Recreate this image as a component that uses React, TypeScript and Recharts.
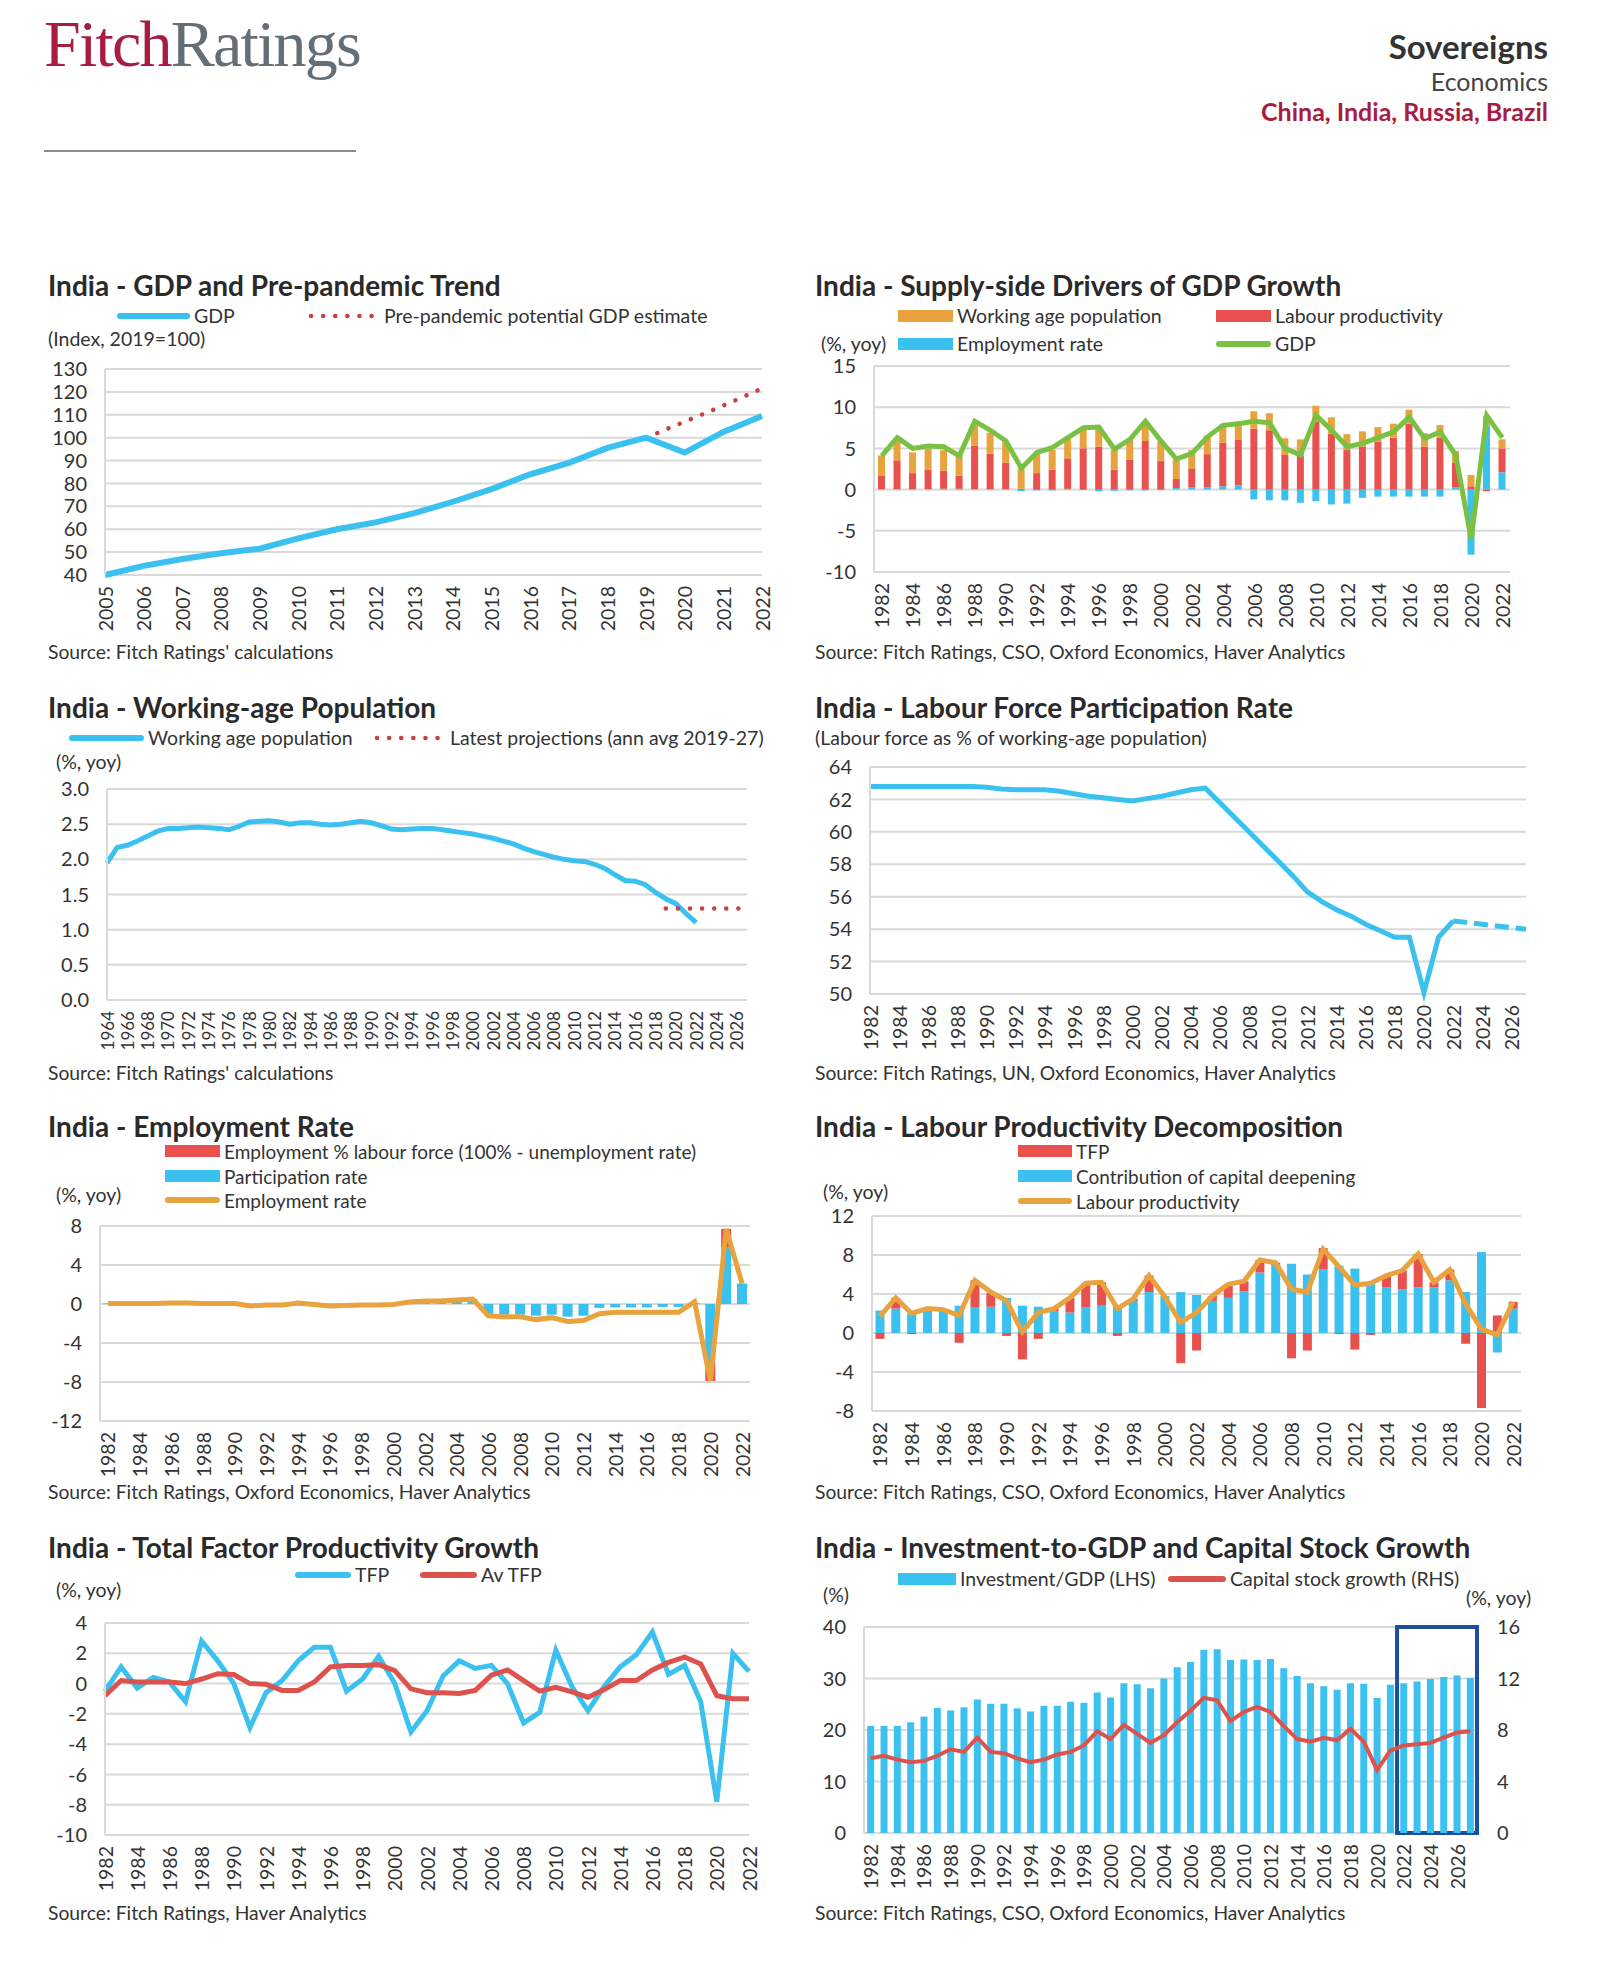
import React from "react";
import {
  ComposedChart,
  LineChart,
  Line,
  Bar,
  XAxis,
  YAxis,
  CartesianGrid,
  ReferenceArea,
} from "recharts";

// ---------- categories ----------
const yearRange = (a: number, b: number) => {
  const out: string[] = [];
  for (let y = a; y <= b; y++) out.push(String(y));
  return out;
};
const gdpYears = yearRange(2005, 2022);
const wapYears = yearRange(1964, 2027);
const years82to22 = yearRange(1982, 2022);
const years82to27 = yearRange(1982, 2027);

// ---------- GDP and pre-pandemic trend (index, 2019=100) ----------
const gdpIndex = [40, 44, 47, 49.5, 51.5, 56, 60, 63, 67, 72, 77.5, 84, 89, 95.5, 100, 93.5, 102.5, 109.5];
const gdpTrend = [null, null, null, null, null, null, null, null, null, null, null, null, null, null, 100, 107, 114, 121.5];

// ---------- working-age population growth, 1964-2022 ----------
const wapGrowth = [
  1.95, 2.17, 2.2, 2.26, 2.33, 2.4, 2.44, 2.44, 2.45, 2.46,
  2.45, 2.44, 2.42, 2.47, 2.53, 2.54, 2.55, 2.53, 2.5, 2.52,
  2.52, 2.5, 2.49, 2.5, 2.52, 2.54, 2.52, 2.48, 2.43, 2.42,
  2.43, 2.44, 2.44, 2.42, 2.4, 2.38, 2.36, 2.33, 2.3, 2.26,
  2.22, 2.16, 2.11, 2.07, 2.03, 2.0, 1.98, 1.97, 1.93, 1.87,
  1.78, 1.7, 1.69, 1.64, 1.53, 1.44, 1.37, 1.23, 1.1,
];
// projections 2019-2027
const wapProjection = [1.3, 1.3, 1.3, 1.3, 1.3, 1.3, 1.3, 1.3, 1.3];

// ---------- labour force participation, 1982-2022 + projection 2022-2027 ----------
const lfpr = [
  62.8, 62.8, 62.8, 62.8, 62.8, 62.8, 62.8, 62.8,
  62.75, 62.65, 62.6, 62.6, 62.6, 62.5, 62.35, 62.2, 62.1, 62.0,
  61.9, 62.05, 62.2, 62.4, 62.6, 62.7, 61.8, 60.9, 60.0, 59.1,
  58.2, 57.3, 56.3, 55.7, 55.2, 54.8, 54.3, 53.9, 53.5, 53.5,
  50.1, 53.5, 54.5,
];
const lfprProjection = [54.5, 54.4, 54.3, 54.2, 54.1, 54.0];

// ---------- employment rate decomposition, 1982-2022 ----------
const employmentRate = [
  0.05, 0.05, 0.05, 0.05, 0.1, 0.1, 0.05, 0.05, 0.05, -0.2,
  -0.1, -0.1, 0.1, -0.05, -0.2, -0.15, -0.1, -0.1, -0.05, 0.2,
  0.3, 0.3, 0.4, 0.5, -1.2, -1.3, -1.3, -1.6, -1.4, -1.8,
  -1.7, -1.0, -0.85, -0.85, -0.85, -0.85, -0.85, 0.25, -7.9, 7.7,
  2.1,
];
const participationRate = [
  0.05, 0.05, 0.05, 0.05, 0.1, 0.1, 0.05, 0.05, 0.05, -0.2,
  -0.1, -0.1, 0.1, -0.05, -0.2, -0.15, -0.1, -0.1, -0.05, 0.2,
  0.3, 0.3, 0.4, 0.5, -1.0, -1.1, -1.1, -1.2, -1.1, -1.3,
  -1.2, -0.4, -0.35, -0.35, -0.35, -0.3, -0.3, 0.1, -6.1, 5.8,
  2.1,
];
const employmentOfLabourForce = [
  0, 0, 0, 0, 0, 0, 0, 0, 0, 0,
  0, 0, 0, 0, 0, 0, 0, 0, 0, 0,
  0, 0, 0, 0, 0, 0, 0, 0, 0, 0,
  0, 0, 0, 0, 0, 0, 0, 0, -1.8, 1.9,
  0,
];

// ---------- supply-side drivers, 1982-2022 ----------
const supplyLabourProd = [
  1.6, 3.5, 1.95, 2.4, 2.2, 1.6, 5.3, 4.3, 3.2, 0.1,
  2.0, 2.4, 3.7, 5.0, 5.2, 2.4, 3.6, 5.9, 3.5, 1.1,
  2.2, 4.0, 5.3, 5.6, 7.4, 7.2, 4.2, 4.1, 8.2, 6.8,
  4.8, 5.2, 5.8, 6.3, 8.0, 5.2, 6.3, 3.0, 0.4, -0.2,
  2.9,
];
const supplyGdp = [
  4.1, 6.3, 5.0, 5.3, 5.2, 4.1, 8.3, 7.2, 5.9, 2.6,
  4.5, 5.1, 6.3, 7.5, 7.6, 4.9, 6.1, 8.3, 5.9, 3.7,
  4.4, 6.4, 7.8, 8.0, 8.3, 8.1, 5.0, 4.2, 9.0, 7.2,
  5.2, 5.6, 6.3, 7.0, 8.8, 6.2, 7.0, 4.2, -6.0, 9.0,
  6.3,
];

// ---------- labour productivity decomposition, 1982-2022 ----------
const capitalDeepening = [
  2.3, 2.5, 2.0, 2.3, 2.2, 2.8, 2.6, 2.7, 3.6, 2.8,
  2.7, 2.2, 2.1, 2.6, 2.8, 2.8, 3.3, 4.2, 3.8, 4.2,
  3.9, 3.3, 3.6, 4.3, 6.2, 7.0, 7.1, 6.0, 6.5, 6.9,
  6.6, 5.1, 4.7, 4.5, 4.7, 4.7, 5.4, 4.2, 8.3, -2.0,
  2.5,
];
const tfpContribution = [
  -0.6, 1.1, -0.1, 0.2, 0.2, -1.0, 2.8, 1.4, -0.3, -2.7,
  -0.6, 0.3, 1.5, 2.5, 2.4, -0.3, 0.2, 1.7, 0.0, -3.1,
  -1.8, 0.5, 1.4, 1.0, 1.3, 0.2, -2.6, -1.8, 2.2, -0.1,
  -1.7, -0.2, 1.2, 1.9, 3.4, 0.5, 1.1, -1.1, -7.7, 1.8,
  0.7,
];
const labourProductivity = [
  1.7, 3.6, 2.0, 2.5, 2.4, 1.8, 5.4, 4.2, 3.3, 0.1,
  2.1, 2.5, 3.6, 5.1, 5.2, 2.5, 3.5, 5.9, 3.7, 1.1,
  2.1, 3.8, 5.0, 5.3, 7.5, 7.2, 4.5, 4.2, 8.6, 6.8,
  4.9, 5.1, 5.9, 6.4, 8.1, 5.2, 6.5, 3.0, 0.4, -0.2,
  3.2,
];

// ---------- TFP growth, 1982-2022 ----------
const tfpGrowth = [
  -0.5, 1.1, -0.3, 0.4, 0.1, -1.2, 2.8, 1.5, 0.0, -2.9,
  -0.6, 0.2, 1.5, 2.4, 2.4, -0.5, 0.3, 1.8, 0.0, -3.2,
  -1.8, 0.5, 1.5, 1.0, 1.2, 0.0, -2.6, -1.9, 2.2, -0.2,
  -1.8, -0.2, 1.1, 1.9, 3.4, 0.6, 1.2, -1.2, -7.8, 2.0,
  0.8,
];
const tfpAverage = [
  -0.8, 0.2, 0.1, 0.1, 0.1, 0.0, 0.3, 0.65, 0.6, 0.0,
  -0.05, -0.45, -0.45, 0.1, 1.1, 1.2, 1.2, 1.25, 0.85, -0.35,
  -0.6, -0.6, -0.65, -0.45, 0.55, 0.9, 0.2, -0.5, -0.25, -0.55,
  -0.9, -0.4, 0.2, 0.2, 0.9, 1.4, 1.75, 1.3, -0.8, -1.0,
  -1.0,
];

// ---------- investment and capital stock, 1982-2027 ----------
const investmentToGdp = [
  20.8, 20.8, 20.8, 21.5, 22.6, 24.3, 23.8, 24.4, 25.9, 25.1,
  25.1, 24.2, 23.6, 24.7, 24.7, 25.5, 25.3, 27.3, 26.3, 29.1,
  28.9, 28.1, 30.0, 32.2, 33.2, 35.6, 35.7, 33.6, 33.7, 33.6,
  33.8, 32.0, 30.5, 29.1, 28.5, 27.8, 29.1, 29.0, 26.2, 28.8,
  29.1, 29.4, 29.9, 30.3, 30.6, 30.1,
];
const capitalStockGrowth = [
  5.8, 6.0, 5.7, 5.5, 5.6, 6.0, 6.5, 6.3, 7.4, 6.3,
  6.2, 5.8, 5.5, 5.7, 6.1, 6.3, 6.8, 7.9, 7.3, 8.4,
  7.7, 7.0, 7.6, 8.6, 9.5, 10.5, 10.3, 8.7, 9.4, 9.8,
  9.4, 8.3, 7.3, 7.1, 7.4, 7.2, 8.1, 7.1, 4.9, 6.4,
  6.8, 6.9, 7.0, 7.4, 7.8, 7.9,
];

// ---------- tick values ----------
const gdpTicks = [40, 50, 60, 70, 80, 90, 100, 110, 120, 130];
const supplyTicks = [-10, -5, 0, 5, 10, 15];
const wapTicks = [0, 0.5, 1, 1.5, 2, 2.5, 3];
const lfprTicks = [50, 52, 54, 56, 58, 60, 62, 64];
const empTicks = [-12, -8, -4, 0, 4, 8];
const lpTicks = [-8, -4, 0, 4, 8, 12];
const tfpTicks = [-10, -8, -6, -4, -2, 0, 2, 4];
const invTicks = [0, 10, 20, 30, 40];
const capTicks = [0, 4, 8, 12, 16];

// ---------- rows ----------
const gdpRows = gdpYears.map((year, i) => ({ year, gdp: gdpIndex[i], trend: gdpTrend[i] }));
const wapRows = wapYears.map((year, i) => ({
  year,
  wap: wapGrowth[i],
  proj: i >= 55 ? wapProjection[i - 55] : undefined,
}));
const lfprRows = years82to27.map((year, i) => ({
  year,
  lfpr: lfpr[i],
  proj: i >= 40 ? lfprProjection[i - 40] : undefined,
}));
const supplyRows = years82to22.map((year, i) => ({
  year,
  er: employmentRate[i],
  lp: supplyLabourProd[i],
  wap: wapGrowth[i + 18],
  gdp: supplyGdp[i],
}));
const empRows = years82to22.map((year, i) => ({
  year,
  elf: employmentOfLabourForce[i],
  part: participationRate[i],
  er: employmentRate[i],
}));
const lpRows = years82to22.map((year, i) => ({
  year,
  cap: capitalDeepening[i],
  tfp: tfpContribution[i],
  lp: labourProductivity[i],
}));
const tfpRows = years82to22.map((year, i) => ({ year, tfp: tfpGrowth[i], avg: tfpAverage[i] }));
const invRows = years82to27.map((year, i) => ({ year, inv: investmentToGdp[i], cap: capitalStockGrowth[i] }));

// ---------- style ----------
const FONT = "Lato, 'Noto Sans', sans-serif";
const INK = "#333333";
const GRID = "#d9d9d9";
const CYAN = "#3bc1ef";
const RED = "#e8514d";
const ORANGE = "#e8a23e";
const GREEN = "#7ac143";
const LINE_RED = "#de524e";
const DOT_RED = "#c9413f";
const CRIMSON = "#a81c42";

const TITLE_SIZE = 28;
const LABEL_SIZE = 19.5;
const SOURCE_SIZE = 19.3;
const YTICK_SIZE = 20;
const XTICK_SIZE = 19.5;

type Plot = { x0: number; y0: number; x1: number; y1: number };
const AXW = 70;
const PADT = 12;
const XH = 80;

function frame(p: Plot, rightW: number) {
  return {
    left: p.x0 - AXW,
    top: p.y0 - PADT,
    width: p.x1 - p.x0 + AXW + rightW,
    height: p.y1 - p.y0 + PADT + XH,
  };
}

const YearTick = (props: any) => {
  const { x, y, payload, size } = props;
  return (
    <text
      x={x}
      y={y}
      transform={`rotate(-90 ${x} ${y})`}
      textAnchor="end"
      dominantBaseline="central"
      fill={INK}
      fontSize={size || XTICK_SIZE}
      fontFamily={FONT}
    >
      {payload.value}
    </text>
  );
};

const yTick = { fill: INK, fontSize: YTICK_SIZE, fontFamily: FONT };
const yAxisLine = { stroke: GRID, strokeWidth: 2 };

function xAxis(interval: number, size = XTICK_SIZE) {
  return (
    <XAxis
      dataKey="year"
      interval={interval}
      tick={<YearTick size={size} />}
      tickLine={false}
      axisLine={false}
      tickSize={0}
      tickMargin={11}
      height={XH}
    />
  );
}

function Txt({
  x,
  y,
  size,
  weight = 400,
  color = INK,
  align = "left",
  family = FONT,
  children,
}: {
  x: number;
  y: number;
  size: number;
  weight?: number;
  color?: string;
  align?: "left" | "right";
  family?: string;
  children: React.ReactNode;
}) {
  const style: React.CSSProperties = {
    position: "absolute",
    top: y,
    fontSize: size,
    fontWeight: weight,
    color,
    fontFamily: family,
    whiteSpace: "nowrap",
    lineHeight: 1,
    transform: "translateY(-50%)",
  };
  if (align === "right") style.right = 1600 - x;
  else style.left = x;
  return <div style={style}>{children}</div>;
}

function Key({
  x,
  y,
  w = 55,
  color,
  kind,
  label,
  size = LABEL_SIZE,
}: {
  x: number;
  y: number;
  w?: number;
  color: string;
  kind: "bar" | "line" | "dots";
  label: string;
  size?: number;
}) {
  let swatch: React.ReactNode;
  if (kind === "bar") {
    swatch = <div style={{ position: "absolute", left: x, top: y - 6, width: w, height: 12, background: color }} />;
  } else if (kind === "line") {
    swatch = (
      <div style={{ position: "absolute", left: x, top: y - 3, width: w, height: 6, borderRadius: 3, background: color }} />
    );
  } else {
    swatch = (
      <svg style={{ position: "absolute", left: x, top: y - 5 }} width={w} height={10}>
        <line x1={3} y1={5} x2={w - 3} y2={5} stroke={color} strokeWidth={4.5} strokeLinecap="round" strokeDasharray="0.1 12" />
      </svg>
    );
  }
  return (
    <>
      {swatch}
      <Txt x={x + w + 4} y={y} size={size}>
        {label}
      </Txt>
    </>
  );
}

function Title({ x, y, children }: { x: number; y: number; children: React.ReactNode }) {
  return (
    <Txt x={x} y={y} size={TITLE_SIZE} weight={700} color="#2a2a2a">
      {children}
    </Txt>
  );
}

function Source({ x, y, children }: { x: number; y: number; children: React.ReactNode }) {
  return (
    <Txt x={x} y={y} size={SOURCE_SIZE}>
      {children}
    </Txt>
  );
}

function Place({ b, children }: { b: { left: number; top: number }; children: React.ReactNode }) {
  return <div style={{ position: "absolute", left: b.left, top: b.top }}>{children}</div>;
}

// ---------- charts ----------
const P1: Plot = { x0: 105, x1: 762, y0: 369, y1: 575 };
const P2: Plot = { x0: 874, x1: 1510, y0: 366, y1: 572 };
const P3: Plot = { x0: 107, x1: 747, y0: 789, y1: 1000 };
const P4: Plot = { x0: 870, x1: 1526, y0: 767, y1: 994 };
const P5: Plot = { x0: 100, x1: 750, y0: 1226, y1: 1421 };
const P6: Plot = { x0: 872, x1: 1521, y0: 1216, y1: 1411 };
const P7: Plot = { x0: 105, x1: 749, y0: 1623, y1: 1835 };
const P8: Plot = { x0: 864, x1: 1477, y0: 1627, y1: 1833 };

function GdpChart() {
  const b = frame(P1, 14);
  return (
    <Place b={b}>
      <LineChart width={b.width} height={b.height} data={gdpRows} margin={{ top: PADT, right: 14, left: 0, bottom: 0 }}>
        <CartesianGrid vertical={false} stroke={GRID} strokeWidth={2} />
        {xAxis(0)}
        <YAxis domain={[40, 130]} ticks={gdpTicks} width={AXW} tick={yTick} tickLine={false} tickSize={0} tickMargin={18} axisLine={yAxisLine} interval={0} />
        <Line dataKey="trend" stroke={DOT_RED} strokeWidth={4.5} strokeLinecap="round" strokeDasharray="0.1 12" dot={false} activeDot={false} isAnimationActive={false} />
        <Line dataKey="gdp" stroke={CYAN} strokeWidth={6} dot={false} activeDot={false} isAnimationActive={false} />
      </LineChart>
    </Place>
  );
}

function SupplyChart() {
  const b = frame(P2, 14);
  return (
    <Place b={b}>
      <ComposedChart width={b.width} height={b.height} data={supplyRows} stackOffset="sign" barCategoryGap="26%" margin={{ top: PADT, right: 14, left: 0, bottom: 0 }}>
        <CartesianGrid vertical={false} stroke={GRID} strokeWidth={2} />
        {xAxis(1)}
        <YAxis domain={[-10, 15]} ticks={supplyTicks} width={AXW} tick={yTick} tickLine={false} tickSize={0} tickMargin={18} axisLine={yAxisLine} interval={0} />
        <Bar dataKey="er" stackId="s" fill={CYAN} isAnimationActive={false} />
        <Bar dataKey="lp" stackId="s" fill={RED} isAnimationActive={false} />
        <Bar dataKey="wap" stackId="s" fill={ORANGE} isAnimationActive={false} />
        <Line dataKey="gdp" stroke={GREEN} strokeWidth={5} dot={false} activeDot={false} isAnimationActive={false} />
      </ComposedChart>
    </Place>
  );
}

function WapChart() {
  const b = frame(P3, 14);
  return (
    <Place b={b}>
      <LineChart width={b.width} height={b.height} data={wapRows} margin={{ top: PADT, right: 14, left: 0, bottom: 0 }}>
        <CartesianGrid vertical={false} stroke={GRID} strokeWidth={2} />
        {xAxis(1, 17)}
        <YAxis domain={[0, 3]} ticks={wapTicks} tickFormatter={(v: number) => v.toFixed(1)} width={AXW} tick={yTick} tickLine={false} tickSize={0} tickMargin={18} axisLine={yAxisLine} interval={0} />
        <Line dataKey="wap" stroke={CYAN} strokeWidth={5} dot={false} activeDot={false} isAnimationActive={false} />
        <Line dataKey="proj" stroke={DOT_RED} strokeWidth={4.5} strokeLinecap="round" strokeDasharray="0.1 12" dot={false} activeDot={false} isAnimationActive={false} />
      </LineChart>
    </Place>
  );
}

function LfprChart() {
  const b = frame(P4, 14);
  return (
    <Place b={b}>
      <LineChart width={b.width} height={b.height} data={lfprRows} margin={{ top: PADT, right: 14, left: 0, bottom: 0 }}>
        <CartesianGrid vertical={false} stroke={GRID} strokeWidth={2} />
        {xAxis(1)}
        <YAxis domain={[50, 64]} ticks={lfprTicks} width={AXW} tick={yTick} tickLine={false} tickSize={0} tickMargin={18} axisLine={yAxisLine} interval={0} />
        <Line dataKey="lfpr" stroke={CYAN} strokeWidth={5} dot={false} activeDot={false} isAnimationActive={false} />
        <Line dataKey="proj" stroke={CYAN} strokeWidth={5} strokeDasharray="14 7" dot={false} activeDot={false} isAnimationActive={false} />
      </LineChart>
    </Place>
  );
}

function EmploymentChart() {
  const b = frame(P5, 14);
  return (
    <Place b={b}>
      <ComposedChart width={b.width} height={b.height} data={empRows} stackOffset="sign" barCategoryGap="18%" margin={{ top: PADT, right: 14, left: 0, bottom: 0 }}>
        <CartesianGrid vertical={false} stroke={GRID} strokeWidth={2} />
        {xAxis(1)}
        <YAxis domain={[-12, 8]} ticks={empTicks} width={AXW} tick={yTick} tickLine={false} tickSize={0} tickMargin={18} axisLine={yAxisLine} interval={0} />
        <Bar dataKey="part" stackId="e" fill={CYAN} isAnimationActive={false} />
        <Bar dataKey="elf" stackId="e" fill={RED} isAnimationActive={false} />
        <Line dataKey="er" stroke={ORANGE} strokeWidth={5} dot={false} activeDot={false} isAnimationActive={false} />
      </ComposedChart>
    </Place>
  );
}

function ProductivityChart() {
  const b = frame(P6, 14);
  return (
    <Place b={b}>
      <ComposedChart width={b.width} height={b.height} data={lpRows} stackOffset="sign" barCategoryGap="22%" margin={{ top: PADT, right: 14, left: 0, bottom: 0 }}>
        <CartesianGrid vertical={false} stroke={GRID} strokeWidth={2} />
        {xAxis(1)}
        <YAxis domain={[-8, 12]} ticks={lpTicks} width={AXW} tick={yTick} tickLine={false} tickSize={0} tickMargin={18} axisLine={yAxisLine} interval={0} />
        <Bar dataKey="cap" stackId="p" fill={CYAN} isAnimationActive={false} />
        <Bar dataKey="tfp" stackId="p" fill={RED} isAnimationActive={false} />
        <Line dataKey="lp" stroke={ORANGE} strokeWidth={5} dot={false} activeDot={false} isAnimationActive={false} />
      </ComposedChart>
    </Place>
  );
}

function TfpChart() {
  const b = frame(P7, 14);
  return (
    <Place b={b}>
      <LineChart width={b.width} height={b.height} data={tfpRows} margin={{ top: PADT, right: 14, left: 0, bottom: 0 }}>
        <CartesianGrid vertical={false} stroke={GRID} strokeWidth={2} />
        {xAxis(1)}
        <YAxis domain={[-10, 4]} ticks={tfpTicks} width={AXW} tick={yTick} tickLine={false} tickSize={0} tickMargin={18} axisLine={yAxisLine} interval={0} />
        <Line dataKey="tfp" stroke={CYAN} strokeWidth={5} dot={false} activeDot={false} isAnimationActive={false} />
        <Line dataKey="avg" stroke={LINE_RED} strokeWidth={5} dot={false} activeDot={false} isAnimationActive={false} />
      </LineChart>
    </Place>
  );
}

function InvestmentChart() {
  const RW = 60;
  const b = frame(P8, RW);
  return (
    <Place b={b}>
      <ComposedChart width={b.width} height={b.height} data={invRows} barCategoryGap="24%" margin={{ top: PADT, right: 0, left: 0, bottom: 0 }}>
        <CartesianGrid vertical={false} stroke={GRID} strokeWidth={2} yAxisId="left" />
        {xAxis(1)}
        <YAxis yAxisId="left" domain={[0, 40]} ticks={invTicks} width={AXW} tick={yTick} tickLine={false} tickSize={0} tickMargin={18} axisLine={yAxisLine} interval={0} />
        <YAxis yAxisId="right" orientation="right" domain={[0, 16]} ticks={capTicks} width={RW} tick={yTick} tickLine={false} tickSize={0} tickMargin={20} axisLine={false} interval={0} />
        <Bar yAxisId="left" dataKey="inv" fill={CYAN} isAnimationActive={false} />
        <Line yAxisId="right" dataKey="cap" stroke={LINE_RED} strokeWidth={4} dot={false} activeDot={false} isAnimationActive={false} />
        <ReferenceArea yAxisId="left" x1="2022" x2="2027" y1={0} y2={40} fill="none" stroke="#1d4e9e" strokeWidth={4} ifOverflow="visible" />
      </ComposedChart>
    </Place>
  );
}

export default function App() {
  return (
    <div
      style={{
        position: "absolute",
        left: 0,
        top: 0,
        width: 1600,
        height: 1966,
        background: "#ffffff",
        fontFamily: FONT,
        color: INK,
        overflow: "hidden",
      }}
    >
      {/* header */}
      <div
        style={{
          position: "absolute",
          left: 44,
          top: 11,
          fontFamily: "'Liberation Serif', 'DejaVu Serif', serif",
          fontSize: 66,
          lineHeight: 1,
          letterSpacing: -1.8,
          whiteSpace: "nowrap",
        }}
      >
        <span style={{ color: CRIMSON }}>Fitch</span>
        <span style={{ color: "#646e76" }}>Ratings</span>
      </div>
      <div style={{ position: "absolute", left: 44, top: 150, width: 312, height: 2, background: "#8c8c8c" }} />
      <Txt x={1548} y={46} size={33} weight={700} align="right" color="#333">
        Sovereigns
      </Txt>
      <Txt x={1548} y={81} size={25} align="right" color="#444">
        Economics
      </Txt>
      <Txt x={1548} y={111} size={25} weight={700} align="right" color={CRIMSON}>
        China, India, Russia, Brazil
      </Txt>

      {/* chart 1 */}
      <Title x={48} y={285}>India - GDP and Pre-pandemic Trend</Title>
      <Key x={117} y={316} w={73} color={CYAN} kind="line" label="GDP" />
      <Key x={308} y={316} w={72} color={DOT_RED} kind="dots" label="Pre-pandemic potential GDP estimate" />
      <Txt x={48} y={339} size={LABEL_SIZE}>(Index, 2019=100)</Txt>
      <GdpChart />
      <Source x={48} y={652}>Source: Fitch Ratings' calculations</Source>

      {/* chart 2 */}
      <Title x={815} y={285}>India - Supply-side Drivers of GDP Growth</Title>
      <Key x={898} y={316} color={ORANGE} kind="bar" label="Working age population" />
      <Key x={1216} y={316} color={RED} kind="bar" label="Labour productivity" />
      <Txt x={821} y={344} size={LABEL_SIZE}>(%, yoy)</Txt>
      <Key x={898} y={344} color={CYAN} kind="bar" label="Employment rate" />
      <Key x={1216} y={344} color={GREEN} kind="line" label="GDP" />
      <SupplyChart />
      <Source x={815} y={652}>Source: Fitch Ratings, CSO, Oxford Economics, Haver Analytics</Source>

      {/* chart 3 */}
      <Title x={48} y={707}>India - Working-age Population</Title>
      <Key x={69} y={738} w={75} color={CYAN} kind="line" label="Working age population" />
      <Key x={374} y={738} w={72} color={DOT_RED} kind="dots" label="Latest projections (ann avg 2019-27)" />
      <Txt x={56} y={762} size={LABEL_SIZE}>(%, yoy)</Txt>
      <WapChart />
      <Source x={48} y={1073}>Source: Fitch Ratings' calculations</Source>

      {/* chart 4 */}
      <Title x={815} y={707}>India - Labour Force Participation Rate</Title>
      <Txt x={815} y={738} size={LABEL_SIZE}>(Labour force as % of working-age population)</Txt>
      <LfprChart />
      <Source x={815} y={1073}>Source: Fitch Ratings, UN, Oxford Economics, Haver Analytics</Source>

      {/* chart 5 */}
      <Title x={48} y={1126}>India - Employment Rate</Title>
      <Key x={165} y={1151} color={RED} kind="bar" size={19} label="Employment % labour force (100% - unemployment rate)" />
      <Key x={165} y={1175.5} color={CYAN} kind="bar" size={19} label="Participation rate" />
      <Key x={165} y={1200} color={ORANGE} kind="line" size={19} label="Employment rate" />
      <Txt x={56} y={1195} size={LABEL_SIZE}>(%, yoy)</Txt>
      <EmploymentChart />
      <Source x={48} y={1492}>Source: Fitch Ratings, Oxford Economics, Haver Analytics</Source>

      {/* chart 6 */}
      <Title x={815} y={1126}>India - Labour Productivity Decomposition</Title>
      <Key x={1018} y={1151} w={54} color={RED} kind="bar" size={19} label="TFP" />
      <Key x={1018} y={1176} w={54} color={CYAN} kind="bar" size={19} label="Contribution of capital deepening" />
      <Key x={1018} y={1201} w={54} color={ORANGE} kind="line" size={19} label="Labour productivity" />
      <Txt x={823} y={1192} size={LABEL_SIZE}>(%, yoy)</Txt>
      <ProductivityChart />
      <Source x={815} y={1492}>Source: Fitch Ratings, CSO, Oxford Economics, Haver Analytics</Source>

      {/* chart 7 */}
      <Title x={48} y={1547}>India - Total Factor Productivity Growth</Title>
      <Key x={295} y={1575} w={56} color={CYAN} kind="line" label="TFP" />
      <Key x={420} y={1575} w={57} color={LINE_RED} kind="line" label="Av TFP" />
      <Txt x={56} y={1590} size={LABEL_SIZE}>(%, yoy)</Txt>
      <TfpChart />
      <Source x={48} y={1913}>Source: Fitch Ratings, Haver Analytics</Source>

      {/* chart 8 */}
      <Title x={815} y={1547}>India - Investment-to-GDP and Capital Stock Growth</Title>
      <Key x={898} y={1579} w={58} color={CYAN} kind="bar" label="Investment/GDP (LHS)" />
      <Key x={1168} y={1579} w={58} color={LINE_RED} kind="line" label="Capital stock growth (RHS)" />
      <Txt x={823} y={1595} size={LABEL_SIZE}>(%)</Txt>
      <Txt x={1466} y={1598} size={LABEL_SIZE}>(%, yoy)</Txt>
      <InvestmentChart />
      <Source x={815} y={1913}>Source: Fitch Ratings, CSO, Oxford Economics, Haver Analytics</Source>
    </div>
  );
}
